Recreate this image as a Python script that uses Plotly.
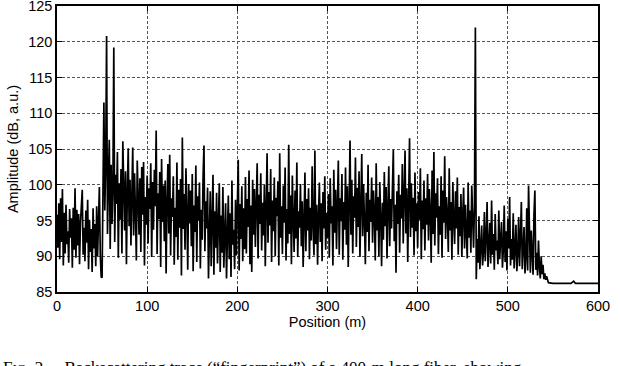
import numpy as np
import plotly.graph_objects as go

# amplitude samples, 1 m apart (dB, a.u.)
amp_0_49 = [
    95.8, 91.2, 97.4, 89.6, 98.1, 92.0, 99.4, 88.7, 96.1, 90.4,
    97.2, 91.7, 93.5, 89.1, 96.6, 92.6, 95.3, 88.4, 96.8, 90.9,
    99.5, 89.8, 96.5, 91.5, 95.9, 88.9, 94.6, 97.0, 99.3, 90.2,
    94.0, 89.3, 96.4, 91.9, 97.9, 88.2, 95.1, 90.6, 93.8, 87.8,
    96.7, 91.1, 94.5, 88.6, 97.0, 90.0, 95.6, 99.7, 90.3, 87.1,
]
amp_50_119 = [
    87.0, 102.6, 111.5, 96.4, 102.9, 120.8, 93.1, 100.5, 106.3, 91.0,
    102.8, 94.5, 99.6, 119.2, 92.0, 101.4, 97.3, 104.6, 89.8, 100.2,
    95.1, 102.2, 90.4, 106.1, 97.8, 93.6, 101.9, 88.9, 99.0, 105.1,
    94.2, 100.7, 91.5, 98.6, 105.2, 92.9, 101.6, 96.2, 89.4, 103.4,
    97.7, 93.0, 100.9, 90.6, 102.5, 95.8, 103.2, 88.7, 98.3, 94.4,
    101.3, 91.8, 99.5, 96.6, 103.0, 89.9, 100.4, 93.7, 102.1, 97.0,
    107.6, 90.3, 98.8, 95.2, 101.8, 88.5, 103.6, 94.8, 99.9, 92.1,
]
amp_120_209 = [
    100.6, 87.6, 97.5, 102.9, 93.2, 104.2, 90.1, 98.1, 95.5, 101.2,
    88.8, 96.8, 92.7, 103.1, 89.5, 99.3, 94.0, 100.8, 87.3, 106.6,
    93.8, 98.7, 90.9, 102.3, 96.1, 88.1, 100.1, 94.6, 99.2, 91.4,
    101.5, 87.9, 97.1, 93.4, 102.7, 89.2, 98.4, 95.0, 100.3, 88.3,
    96.5, 92.3, 101.0, 105.5, 90.7, 97.7, 93.9, 99.6, 86.9, 95.4,
    99.1, 88.6, 94.3, 101.4, 87.4, 96.3, 91.2, 98.9, 89.0, 93.3,
    100.2, 87.8, 95.7, 90.5, 99.7, 88.4, 94.9, 97.4, 86.9, 92.0,
    98.5, 89.6, 96.0, 87.1, 100.6, 91.6, 93.7, 88.2, 97.9, 90.1,
    95.2, 103.5, 88.0, 97.3, 92.4, 99.8, 89.3, 96.7, 91.0, 101.1,
]
amp_210_299 = [
    90.4, 98.0, 94.1, 102.0, 88.9, 97.1, 87.8, 100.7, 93.0, 99.4,
    91.3, 96.9, 103.0, 89.7, 98.6, 94.5, 101.6, 90.8, 97.5, 92.9,
    100.0, 88.6, 96.2, 104.4, 91.9, 99.0, 94.3, 102.2, 89.2, 97.8,
    93.5, 101.0, 90.0, 98.2, 95.6, 100.5, 88.7, 104.4, 92.6, 97.0,
    90.3, 99.9, 94.7, 102.4, 89.4, 96.6, 91.8, 105.6, 93.1, 98.5,
    88.9, 101.3, 95.3, 90.6, 99.2, 92.5, 103.1, 89.9, 96.3, 94.0,
    100.1, 91.4, 97.7, 88.5, 95.0, 101.7, 90.7, 98.0, 93.6, 99.5,
    89.6, 96.8, 92.2, 102.6, 94.4, 90.1, 104.8, 91.7, 97.2, 88.8,
    95.8, 100.3, 92.0, 97.4, 89.3, 99.0, 93.9, 101.2, 90.9, 96.1,
]
amp_300_399 = [
    92.6, 98.7, 89.8, 100.9, 94.6, 97.0, 88.7, 102.1, 93.3, 99.3,
    91.0, 96.4, 103.4, 90.2, 98.1, 94.9, 101.5, 89.5, 97.6, 93.7,
    102.4, 91.6, 99.8, 88.5, 97.1, 106.2, 93.0, 100.7, 90.4, 98.4,
    95.4, 103.8, 91.3, 99.6, 94.1, 101.9, 89.9, 97.3, 104.3, 92.8,
    100.1, 95.0, 88.9, 98.9, 93.4, 102.8, 90.7, 97.9, 94.8, 101.0,
    91.9, 99.2, 96.0, 89.4, 103.0, 93.6, 98.3, 90.0, 100.4, 95.6,
    88.6, 97.5, 92.3, 101.8, 94.2, 99.7, 89.7, 96.8, 102.6, 91.4,
    98.0, 93.9, 100.9, 104.9, 92.1, 97.2, 87.7, 99.1, 94.5, 101.4,
    90.5, 98.6, 95.3, 102.9, 91.8, 97.7, 104.8, 93.2, 99.5, 89.2,
    96.6, 106.5, 92.7, 100.2, 94.0, 98.2, 90.1, 101.7, 93.5, 97.4,
]
amp_400_464 = [
    91.2, 99.0, 95.1, 102.3, 89.6, 97.8, 93.8, 100.6, 90.8, 98.1,
    94.4, 101.5, 92.2, 99.4, 96.3, 89.1, 102.0, 93.1, 104.6, 91.5,
    98.8, 95.4, 100.9, 90.3, 97.0, 93.0, 101.2, 89.8, 99.2, 94.7,
    104.0, 92.4, 98.3, 95.8, 90.6, 102.3, 93.6, 97.6, 89.5, 100.4,
    95.0, 91.7, 99.1, 93.9, 101.0, 90.2, 96.9, 92.8, 98.7, 89.9,
    95.7, 99.6, 91.1, 97.2, 93.3, 89.7, 100.3, 92.6, 96.4, 90.5,
    99.9, 93.8, 91.2, 97.0, 122.0,
]
amp_465_544 = [
    86.8, 92.4, 89.1, 95.6, 88.2, 91.9, 94.3, 88.7, 90.6, 96.2,
    89.3, 92.8, 97.6, 88.5, 91.4, 94.7, 89.0, 97.8, 90.2, 93.1,
    88.1, 95.9, 90.8, 92.2, 88.9, 96.4, 89.6, 91.7, 94.8, 88.4,
    90.9, 97.1, 89.2, 93.5, 88.0, 95.2, 91.1, 98.3, 88.7, 92.4,
    89.5, 96.0, 88.3, 91.0, 94.4, 87.9, 90.4, 95.5, 88.6, 92.7,
    97.6, 88.2, 90.9, 94.1, 87.6, 89.8, 96.7, 88.0, 99.9, 91.3,
    87.7, 93.6, 89.2, 87.4, 95.8, 99.2, 88.1, 90.5, 87.3, 92.2,
    88.6, 86.9, 90.0, 87.5, 88.8, 86.8, 87.6, 86.7, 87.2, 86.6,
]
# beyond the fiber end: noise floor
tail_pos = [545, 550, 560, 570, 573, 575, 580, 590, 600]
tail_amp = [86.3, 86.2, 86.2, 86.2, 86.5, 86.2, 86.2, 86.2, 86.2]

amp = (amp_0_49 + amp_50_119 + amp_120_209 + amp_210_299
       + amp_300_399 + amp_400_464 + amp_465_544 + tail_amp)
pos = list(np.arange(545)) + tail_pos

caption = ("F<span style='font-size:13px'>IG</span>. 2.&nbsp;&nbsp;&nbsp; "
           "Backscattering trace (“fingerprint”) of a 400-m long fiber, showing")

fig = go.Figure(go.Scatter(
    x=pos, y=amp, mode="lines",
    line=dict(color="black", width=1.7),
    showlegend=False,
))

label_font = dict(family="Liberation Sans", size=14.5, color="black")

axis_style = dict(
    showline=True, linecolor="black", linewidth=1.5, mirror="ticks",
    ticks="inside", ticklen=5, tickcolor="black",
    showgrid=True, gridcolor="#555", gridwidth=0.8, griddash="3px,2px",
    zeroline=False, automargin=False, ticklabeloverflow="allow",
    tickfont=label_font,
)

fig.update_xaxes(range=[0, 600.01], tickvals=[0, 100, 200, 300, 400, 500, 600],
                 title=dict(text="Position (m)", standoff=2, font=label_font),
                 **axis_style)
fig.update_yaxes(range=[85, 125.01], tickvals=[85, 90, 95, 100, 105, 110, 115, 120, 125],
                 title=dict(text="Amplitude (dB, a.u.)", standoff=6, font=label_font),
                 **axis_style)

fig.add_annotation(
    text=caption, xref="paper", yref="paper", x=-0.103, y=-0.225,
    xanchor="left", yanchor="top", showarrow=False,
    font=dict(family="Liberation Serif", size=17, color="black"),
)

fig.update_layout(
    width=620, height=366,
    margin=dict(l=57, r=22, t=6, b=74),
    paper_bgcolor="white", plot_bgcolor="white",
)

# drop the browser's default page margin so the figure sits at 0,0
fig.write_html("out.html", config={"displayModeBar": False},
               post_script="document.body.style.margin='0';")
